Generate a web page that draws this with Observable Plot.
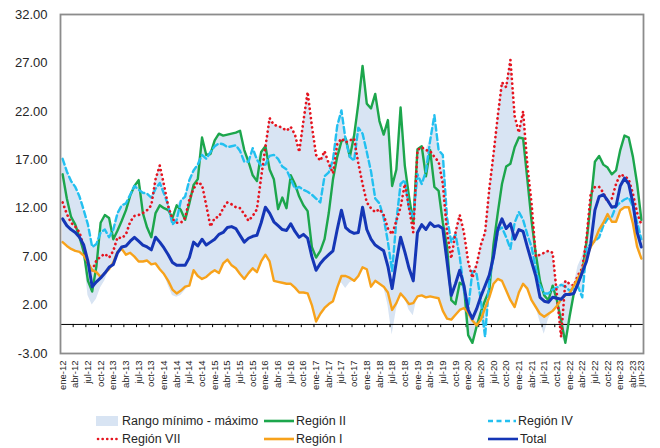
<!DOCTYPE html>
<html>
<head>
<meta charset="utf-8">
<script src="https://cdn.jsdelivr.net/npm/d3@7"></script>
<script src="https://cdn.jsdelivr.net/npm/@observablehq/plot@0.6"></script>
<style>
  html, body { margin: 0; padding: 0; background: #fff; }
  #wrap { position: relative; width: 660px; height: 448px; font-family: "Liberation Sans", Arial, sans-serif; color: #262626; }
  #chart svg { display: block; }
  .lg { position: absolute; height: 16px; line-height: 16px; font-size: 12.5px; white-space: nowrap; display: flex; align-items: center; }
  .lg svg { display: block; margin-right: 2px; }
</style>
</head>
<body>
<div id="wrap">
  <div id="chart"></div>
</div>
<script>
// Monthly categories: ene-12 ... jun-23 (138 months)
const mesAbrev = ["ene","feb","mar","abr","may","jun","jul","ago","sep","oct","nov","dic"];
const anios = ["12","13","14","15","16","17","18","19","20","21","22","23"];

// Tick labels on the x axis (category index, label)
const tickIdx = [0,3,6,9,12,15,18,21,24,27,30,33,36,39,42,45,48,51,54,57,60,63,66,69,72,75,78,81,84,87,90,93,96,99,102,105,108,111,114,117,120,123,126,129,132,135,137];
const tickLabels = ["ene-12","abr-12","jul-12","oct-12","ene-13","abr-13","jul-13","oct-13","ene-14","abr-14","jul-14","oct-14","ene-15","abr-15","jul-15","oct-15","ene-16","abr-16","jul-16","oct-16","ene-17","abr-17","jul-17","oct-17","ene-18","abr-18","jul-18","oct-18","ene-19","abr-19","jul-19","oct-19","ene-20","abr-20","jul-20","oct-20","ene-21","abr-21","jul-21","oct-21","ene-22","abr-22","jul-22","oct-22","ene-23","abr-23","jun-23"];
const yTicks = [-3, 2, 7, 12, 17, 22, 27, 32];

// Series values
const total = [
  10.9,10.2,9.8,9.5,9.0,8.2,6.5,3.9,4.4,4.8,
  5.3,5.9,6.2,7.4,8.0,8.1,8.6,9.0,8.6,8.2,
  8.0,7.7,9.0,8.5,7.9,7.2,6.4,6.1,6.1,6.1,
  6.9,8.5,8.1,8.8,8.2,8.5,8.8,9.3,9.5,10.0,
  10.1,9.9,9.2,8.5,8.9,9.1,9.2,10.5,12.1,11.5,
  10.6,10.2,9.8,9.7,10.4,9.6,9.0,9.3,8.9,7.0,
  5.6,6.3,6.8,7.2,7.6,9.8,11.8,10.0,9.6,9.4,
  9.5,12.1,9.8,8.8,8.2,7.9,7.6,6.0,3.7,6.5,
  9.0,7.5,5.8,4.5,9.5,10.3,9.8,10.5,10.1,10.2,
  9.9,6.5,3.0,4.2,5.6,4.0,1.5,0.6,1.6,2.9,
  4.0,5.1,7.0,9.8,10.9,9.9,10.4,8.8,9.8,9.6,
  8.0,6.5,5.0,2.8,2.4,2.3,2.8,2.7,2.6,3.1,
  3.1,3.2,4.2,5.4,6.5,8.3,11.8,13.2,13.4,12.8,
  12.1,12.2,14.3,15.1,14.5,12.5,9.5,8.0
];
const regionI = [
  8.5,8.1,7.8,7.6,7.5,7.1,6.4,5.6,5.4,4.9,
  5.3,5.7,6.4,7.5,7.8,7.2,7.4,7.0,6.5,6.5,
  6.6,6.2,6.3,5.7,5.2,4.5,3.6,3.2,3.5,3.9,
  4.0,5.6,5.0,4.7,4.9,5.3,5.6,5.3,6.3,6.7,
  6.1,5.8,5.2,4.7,5.3,5.8,5.4,6.5,7.2,6.5,
  4.5,4.4,4.3,4.2,4.2,3.8,3.3,3.3,3.2,2.0,
  0.3,1.1,1.7,2.1,2.4,3.8,5.0,5.0,4.8,4.5,
  5.0,5.9,5.7,3.9,4.5,4.2,3.9,3.3,1.5,2.2,
  3.2,2.7,2.1,2.2,2.9,3.0,2.8,2.9,2.8,2.7,
  1.4,0.6,0.5,1.0,1.5,1.7,1.2,0.4,-0.1,0.5,
  1.7,2.8,4.2,4.7,4.5,3.5,2.5,1.8,3.3,4.2,
  3.7,2.5,1.8,1.1,0.8,1.1,1.4,1.9,2.6,3.0,
  3.2,4.0,4.8,5.6,6.9,8.0,8.7,9.8,10.5,11.4,
  10.6,10.6,11.8,12.1,12.1,10.4,8.0,6.8
];
const regionII = [
  15.5,13.0,11.1,10.3,9.0,7.5,4.5,3.4,6.0,10.5,
  11.3,11.0,8.8,9.7,10.7,11.8,13.3,14.3,14.9,11.5,
  10.0,9.0,11.5,12.3,12.0,11.8,11.0,12.3,11.8,10.8,
  12.5,14.4,15.0,19.3,17.5,17.6,19.0,19.7,19.5,19.6,
  19.7,19.8,20.0,18.0,16.8,15.4,14.8,17.8,18.4,16.0,
  15.0,11.9,13.1,12.0,15.4,14.5,13.2,12.3,11.7,8.0,
  6.9,7.6,8.8,11.5,15.0,17.3,18.9,19.2,17.3,19.5,
  22.8,26.7,22.8,22.3,23.8,21.0,19.6,21.1,14.3,16.0,
  22.4,16.4,13.2,10.5,18.1,18.4,15.3,18.0,14.2,13.8,
  10.5,8.0,2.5,2.1,4.3,4.0,-1.1,-1.9,-0.2,1.3,
  2.5,3.5,8.3,11.5,14.5,16.3,16.6,18.3,19.3,19.2,
  15.0,10.7,7.3,4.5,3.0,2.5,4.0,2.5,0.4,-1.9,
  0.8,3.2,4.3,5.3,8.5,12.5,16.8,17.4,16.5,16.2,
  15.5,15.9,18.0,19.5,19.3,17.3,14.5,10.8
];
const regionIV = [
  17.1,15.8,14.8,14.2,13.2,11.8,10.3,8.0,8.3,9.5,
  9.8,9.0,9.8,11.5,12.3,12.5,13.4,14.3,13.9,13.6,
  13.5,13.1,14.0,14.6,13.5,12.3,10.3,10.8,12.8,13.2,
  14.9,15.9,16.5,17.5,17.1,17.8,18.4,18.7,18.6,18.3,
  18.4,18.5,17.9,16.8,16.8,18.2,17.0,16.4,16.5,17.4,
  17.5,17.1,16.3,16.0,15.0,14.0,14.2,13.9,13.7,13.4,
  13.0,12.6,15.3,15.7,17.0,20.5,22.1,19.0,17.3,16.9,
  20.3,19.7,17.8,15.8,13.0,12.5,11.0,8.5,5.5,10.7,
  14.5,14.9,12.0,11.0,15.5,14.5,15.8,19.0,21.6,18.0,
  17.5,11.0,8.5,9.3,7.0,3.5,1.6,5.5,5.2,2.5,
  -1.3,4.6,7.0,9.7,10.0,9.0,7.8,10.5,11.6,10.8,
  9.3,8.0,5.8,4.0,3.2,3.2,3.6,3.8,4.1,3.9,
  3.5,3.7,3.9,2.8,7.9,8.3,8.6,9.0,10.2,10.9,
  11.1,12.2,12.6,12.9,13.1,12.2,10.5,8.8
];
const regionVII = [
  12.6,11.4,10.5,10.1,9.5,8.0,6.2,5.6,6.6,7.0,
  7.3,6.9,7.6,9.0,8.9,9.3,10.6,11.2,11.3,11.5,
  11.8,12.3,15.0,16.4,14.4,12.2,10.9,10.5,10.5,11.0,
  12.9,14.0,14.7,14.4,12.3,10.1,11.0,11.1,12.0,12.6,
  12.4,12.1,12.0,11.4,10.7,11.2,11.9,15.2,18.3,21.3,
  20.6,20.5,20.3,20.0,20.4,19.6,17.8,21.0,24.0,20.5,
  17.5,16.9,17.9,16.6,15.6,18.6,19.2,18.8,19.0,19.2,
  16.6,14.5,12.6,12.0,11.6,11.9,11.3,9.9,9.3,10.7,
  12.1,14.5,12.0,9.5,18.0,18.3,18.0,17.9,17.3,16.8,
  14.5,9.5,6.8,9.5,11.3,9.5,6.5,4.8,6.2,8.2,
  9.5,14.0,17.6,21.5,25.0,24.5,27.3,21.5,19.8,22.0,
  16.5,12.5,7.0,7.2,7.4,7.6,7.4,3.1,-1.3,4.5,
  4.2,4.0,5.1,5.8,8.8,13.5,14.2,14.2,13.6,12.6,
  13.0,14.5,15.5,15.3,15.0,13.5,11.5,10.3
];
const rangoMin = [
  8.5,8.1,7.8,7.6,7.5,7.1,3.0,2.0,2.6,3.8,
  4.5,5.7,6.2,7.4,7.8,7.2,7.4,7.0,6.5,6.5,
  6.6,6.2,6.3,5.7,5.2,4.0,3.0,2.8,3.0,3.5,
  4.0,5.6,5.0,4.7,4.9,5.3,5.6,5.3,6.3,6.7,
  6.1,5.8,5.2,4.7,5.3,5.8,5.4,6.5,7.2,6.5,
  4.5,4.4,4.3,4.2,4.2,3.8,3.3,3.3,3.2,2.0,
  0.3,1.1,1.7,2.1,2.4,3.8,4.3,3.7,4.3,4.5,
  5.0,5.9,5.7,3.9,4.5,4.2,3.9,2.0,-1.1,1.5,
  3.2,2.7,1.5,0.9,2.9,3.0,2.8,2.9,2.8,2.7,
  1.4,0.6,0.5,1.0,1.5,1.7,-1.1,-1.9,-0.2,0.5,
  -1.3,2.8,4.2,4.7,4.5,3.5,2.5,1.8,3.3,4.2,
  3.7,2.5,1.8,0.3,-1.0,0.5,1.4,1.9,-1.3,-1.9,
  0.8,3.2,3.9,2.8,6.5,8.0,8.6,9.0,10.2,10.9,
  10.6,10.6,11.8,12.1,12.1,10.4,8.0,6.8
];
const rangoMax = [
  17.1,15.8,14.8,14.2,13.2,11.8,10.3,8.0,8.3,10.5,
  11.3,11.0,9.8,11.5,12.3,12.5,13.4,14.3,14.9,13.6,
  13.5,13.1,15.0,16.4,14.4,12.3,11.0,12.3,12.8,13.2,
  14.9,15.9,16.5,19.3,17.5,17.8,19.0,19.7,19.5,19.6,
  19.7,19.8,20.0,18.0,16.8,18.2,17.0,17.8,18.4,21.3,
  20.6,20.5,20.3,20.0,20.4,19.6,17.8,21.0,24.0,20.5,
  17.5,16.9,17.9,16.6,17.0,20.5,22.1,19.2,19.0,19.5,
  22.8,26.7,22.8,22.3,23.8,21.0,19.6,21.1,14.3,16.0,
  22.4,16.4,13.2,11.0,18.1,18.4,18.0,19.0,21.6,18.0,
  17.5,11.0,8.5,9.5,11.3,9.5,6.5,5.5,6.2,8.2,
  9.5,14.0,17.6,21.5,25.0,24.5,27.3,21.5,19.8,22.0,
  16.5,12.5,7.3,7.2,7.4,7.6,7.4,4.0,4.1,4.5,
  4.2,4.0,6.0,7.0,8.8,13.5,16.8,17.4,16.5,16.2,
  15.5,15.9,18.0,19.5,19.3,17.3,14.5,10.8
];

// Build category labels and table
const meses = [];
for (const a of anios) for (const m of mesAbrev) meses.push(m + "-" + a);
const data = total.map((t, i) => ({
  i, mes: meses[i], total: t, r1: regionI[i], r2: regionII[i], r4: regionIV[i], r7: regionVII[i],
  lo: rangoMin[i], hi: rangoMax[i]
}));
const labelMap = new Map(tickIdx.map((d, k) => [d, tickLabels[k]]));
const tickMarks = [];
for (let k = 2.5; k < 137.5; k += 3) tickMarks.push(k);

const colors = { area: "#d8e4f3", r2: "#1ca64c", r4: "#23c0f0", r7: "#e5141f", r1: "#f7a21b", total: "#1536b6" };

const chart = Plot.plot({
  width: 660, height: 408,
  marginTop: 14, marginBottom: 55, marginLeft: 60, marginRight: 17,
  style: { fontFamily: "'Liberation Sans', Arial, sans-serif", color: "#262626", background: "#fff", overflow: "visible" },
  x: { domain: [-0.5, 137.5], label: null },
  y: { domain: [-3, 32], label: null },
  marks: [
    Plot.areaY(data, { x: "i", y1: "lo", y2: "hi", fill: colors.area }),
    Plot.ruleY([0], { stroke: "#000", strokeWidth: 1 }),
    Plot.ruleX(tickMarks, { x: d => d, y1: 0, y2: -0.33, stroke: "#000", strokeWidth: 1 }),
    Plot.lineY(data, { x: "i", y: "r2", stroke: colors.r2, strokeWidth: 2.4 }),
    Plot.lineY(data, { x: "i", y: "r4", stroke: colors.r4, strokeWidth: 2.4, strokeDasharray: "6 3.5" }),
    Plot.lineY(data, { x: "i", y: "r7", stroke: colors.r7, strokeWidth: 2.7, strokeDasharray: "0.1 4.6", strokeLinecap: "round" }),
    Plot.lineY(data, { x: "i", y: "r1", stroke: colors.r1, strokeWidth: 2.4 }),
    Plot.lineY(data, { x: "i", y: "total", stroke: colors.total, strokeWidth: 3 }),
    Plot.axisY(yTicks, { tickFormat: d => d.toFixed(2), tickSize: 0, tickPadding: 13, fontSize: 13 }),
    Plot.axisX(tickIdx, { tickFormat: d => labelMap.get(d), tickRotate: -90, tickSize: 0, tickPadding: 7, fontSize: 9.5 }),
    Plot.frame({ stroke: "#8c8c8c", strokeWidth: 1.8 })
  ]
});
document.getElementById("chart").appendChild(chart);

// Legend (HTML below the SVG)
const legendItems = [
  { label: "Rango mínimo - máximo", kind: "area", color: colors.area, left: 96, top: 413 },
  { label: "Región II", kind: "line", color: colors.r2, left: 264, top: 413 },
  { label: "Región IV", kind: "dash", color: colors.r4, left: 488, top: 413 },
  { label: "Región VII", kind: "dot", color: colors.r7, left: 96, top: 431 },
  { label: "Región I", kind: "line", color: colors.r1, left: 264, top: 431 },
  { label: "Total", kind: "line", color: colors.total, left: 488, top: 431 }
];
const wrap = document.getElementById("wrap");
for (const it of legendItems) {
  const div = document.createElement("div");
  div.className = "lg";
  div.style.left = it.left + "px";
  div.style.top = it.top + "px";
  let sw;
  if (it.kind === "area") {
    sw = `<svg width="24" height="12"><rect x="0" y="1" width="22" height="10" fill="${it.color}"/></svg>`;
  } else if (it.kind === "line") {
    sw = `<svg width="30" height="12"><line x1="0" x2="30" y1="6" y2="6" stroke="${it.color}" stroke-width="2.6"/></svg>`;
  } else if (it.kind === "dash") {
    sw = `<svg width="28" height="12"><line x1="0" x2="28" y1="6" y2="6" stroke="${it.color}" stroke-width="2.4" stroke-dasharray="5 3.5"/></svg>`;
  } else {
    sw = `<svg width="24" height="12"><line x1="2" x2="24" y1="6" y2="6" stroke="${it.color}" stroke-width="2.6" stroke-dasharray="0.1 4.5" stroke-linecap="round"/></svg>`;
  }
  div.innerHTML = sw + `<span>${it.label}</span>`;
  wrap.appendChild(div);
}
</script>
</body>
</html>
